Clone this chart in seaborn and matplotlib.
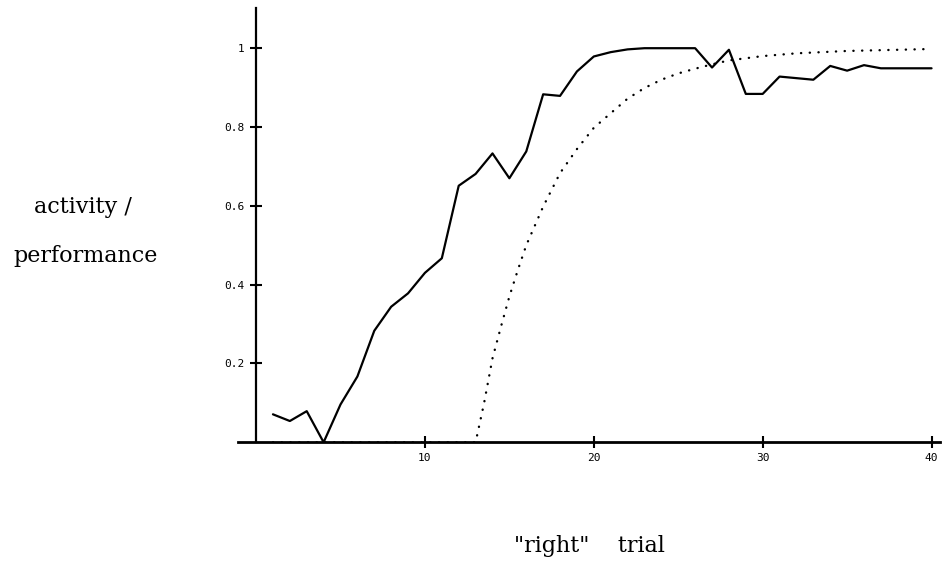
import matplotlib
matplotlib.use("Agg")
import matplotlib.pyplot as plt
import seaborn as sns
import pandas as pd

# ---- data ----
trials = list(range(1, 41))
activity = [0.071, 0.054, 0.079, 0.0, 0.096, 0.167, 0.283, 0.344, 0.378, 0.430,
            0.467, 0.651, 0.681, 0.733, 0.670, 0.738, 0.883, 0.879, 0.941, 0.979,
            0.990, 0.997, 1.0, 1.0, 1.0, 1.0, 0.951, 0.996, 0.884, 0.884,
            0.928, 0.924, 0.920, 0.955, 0.943, 0.957, 0.949, 0.949, 0.949, 0.949]

perf_trials = [1, 2, 3, 4, 5, 6, 7, 8, 9, 10, 11, 12, 13, 13.5, 14, 14.5, 15, 15.5,
               16, 17, 18, 19, 20, 21, 22, 23, 24, 25, 26, 27, 28, 30, 32, 35, 40]
performance = [0, 0, 0, 0, 0, 0, 0, 0, 0, 0, 0, 0, 0, 0.099, 0.213, 0.293, 0.37, 0.437,
               0.50, 0.598, 0.683, 0.744, 0.798, 0.835, 0.872, 0.899, 0.920, 0.936,
               0.948, 0.959, 0.969, 0.980, 0.987, 0.993, 0.998]

xticks = [10, 20, 30, 40]
yticks = [0.2, 0.4, 0.6, 0.8, 1.0]
ytick_labels = ["0.2", "0.4", "0.6", "0.8", "1"]

df_act = pd.DataFrame({"trial": trials, "value": activity})
df_perf = pd.DataFrame({"trial": perf_trials, "value": performance})

sns.set_style("white")

fig = plt.figure(figsize=(9.43, 5.61), dpi=100)
ax = fig.add_axes([238 / 943, 1 - 442.3 / 561, (940 - 238) / 943, (442.3 - 8) / 561])

sns.lineplot(data=df_act, x="trial", y="value", ax=ax, color="black", linewidth=1.6,
             estimator=None, sort=False)
sns.lineplot(data=df_perf, x="trial", y="value", ax=ax, color="black", linewidth=1.7,
             estimator=None, sort=False, linestyle=(0, (0.1, 3.6)),
             dash_capstyle="round")

ax.set_xlim(-1.07, 40.5)
ax.set_ylim(0, 1.102)

for s in ["top", "right"]:
    ax.spines[s].set_visible(False)
ax.spines["left"].set_position(("data", 0))
ax.spines["left"].set_linewidth(1.6)
ax.spines["bottom"].set_linewidth(2.0)
ax.spines["left"].set_color("black")
ax.spines["bottom"].set_color("black")

ax.set_xticks(xticks)
ax.set_xticklabels([str(v) for v in xticks], fontfamily="DejaVu Sans Mono", fontsize=8)
ax.set_yticks(yticks)
ax.set_yticklabels(ytick_labels, fontfamily="DejaVu Sans Mono", fontsize=8)
ax.tick_params(axis="x", bottom=True, direction="inout", length=8, width=1.5,
               color="black", pad=4, labelcolor="black")
ax.tick_params(axis="y", left=True, direction="inout", length=9, width=1.5,
               color="black", pad=4, labelcolor="black")
ax.set_xlabel("")
ax.set_ylabel("")

fig.text(83 / 943, 1 - 207 / 561, "activity /", ha="center", va="center",
         fontfamily="DejaVu Serif", fontsize=16, color="black")
fig.text(86 / 943, 1 - 256 / 561, "performance", ha="center", va="center",
         fontfamily="DejaVu Serif", fontsize=16, color="black")
fig.text(589 / 943, 1 - 546 / 561, "\"right\"    trial", ha="center", va="center",
         fontfamily="DejaVu Serif", fontsize=16, color="black")

fig.savefig("out.png", dpi=100, facecolor="white")
